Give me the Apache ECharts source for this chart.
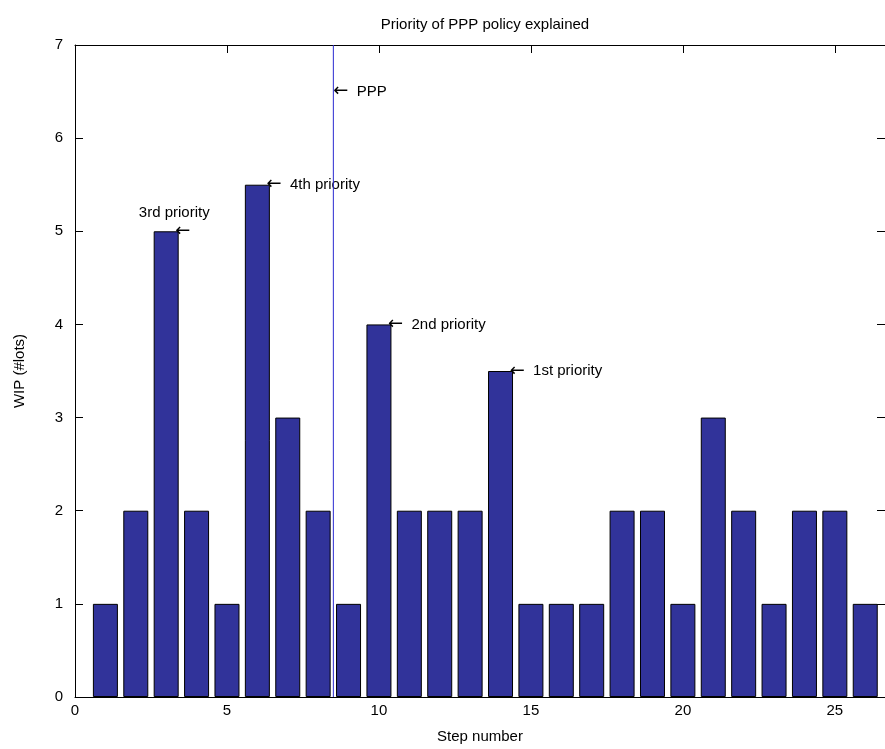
<!DOCTYPE html>
<html><head><meta charset="utf-8">
<script src="https://cdn.jsdelivr.net/npm/echarts@6/dist/echarts.min.js"></script>
<style>html,body{margin:0;padding:0;background:#fff}#main{width:885px;height:749px}</style>
</head><body><div id="main"></div>
<script>
var steps = [1,2,3,4,5,6,7,8,9,10,11,12,13,14,15,16,17,18,19,20,21,22,23,24,25,26];
var wip = [1,2,5,2,1,5.5,3,2,1,4,2,2,2,3.5,1,1,1,2,2,1,3,2,1,2,2,1];
var pppPos = 8.5;
var yMax = 7;
var notes = [
  {x: 8.5, y: 6.5, arrow: true, text: 'PPP'},
  {x: 6.3, y: 5.5, arrow: true, text: '4th priority'},
  {x: 10.3, y: 4.0, arrow: true, text: '2nd priority'},
  {x: 14.3, y: 3.5, arrow: true, text: '1st priority'},
  {x: 3.3, y: 5.0, arrow: true, text: ''},
  {x: 2.1, y: 5.2, arrow: false, text: '3rd priority'}
];

var myChart = echarts.init(document.getElementById('main'));
var font = 'Liberation Sans';
function axisCommon(inside, len) {
  return {
    axisLine: {show: true, onZero: false, lineStyle: {color: '#000'}},
    axisTick: {show: true, inside: inside, length: len, lineStyle: {color: '#000', width: 1}},
    splitLine: {show: false}
  };
}
var option = {
  animation: false,
  textStyle: {fontFamily: font},
  title: {text: 'Priority of PPP policy explained', left: 480, top: 12, textAlign: 'center',
    textStyle: {fontSize: 15, fontWeight: 'normal', color: '#000', fontFamily: font}},
  grid: {left: 75, right: 0, top: 45, bottom: 34},
  xAxis: [
    Object.assign({type: 'value', min: 0, max: 26.65, interval: 5, name: 'Step number',
      nameLocation: 'middle', nameGap: 32, nameTextStyle: {fontSize: 15, color: '#000'},
      axisLabel: {fontSize: 15, color: '#000', margin: 6, showMaxLabel: false}}, axisCommon(false, -8)),
    Object.assign({type: 'value', position: 'top', min: 0, max: 26.65, interval: 5,
      axisLabel: {show: false}}, axisCommon(true, 8))
  ],
  yAxis: [
    Object.assign({type: 'value', min: 0, max: yMax, interval: 1, name: 'WIP (#lots)',
      nameLocation: 'middle', nameGap: 48, nameTextStyle: {fontSize: 15, color: '#000'},
      axisLabel: {fontSize: 15, color: '#000', margin: 12}}, axisCommon(false, -8)),
    Object.assign({type: 'value', position: 'right', min: 0, max: yMax, interval: 1,
      axisLabel: {show: false}}, axisCommon(true, 8))
  ],
  series: [{
    type: 'bar',
    barWidth: 25,
    data: steps.map(function (s, i) { return [s, wip[i]]; }),
    itemStyle: {color: '#31339a', borderColor: '#000', borderWidth: 1},
    markPoint: {
      symbol: 'circle', symbolSize: 0,
      data: notes.map(function (n) {
        return {coord: [n.x, n.y], value: n.text,
          label: {show: true, position: 'right', distance: 0,
            formatter: (n.arrow ? '{a|\u2190}  ' : '') + n.text,
            fontSize: 15, color: '#000', fontFamily: font,
            rich: {a: {fontFamily: 'DejaVu Sans', fontSize: 18, color: '#000'}}}};
      })
    }
  }, {
    type: 'line',
    data: [[pppPos, 0], [pppPos, yMax]],
    symbol: 'none',
    lineStyle: {color: '#2a2ad0', width: 1},
    z: 5
  }]
};
myChart.setOption(option);
</script></body></html>
